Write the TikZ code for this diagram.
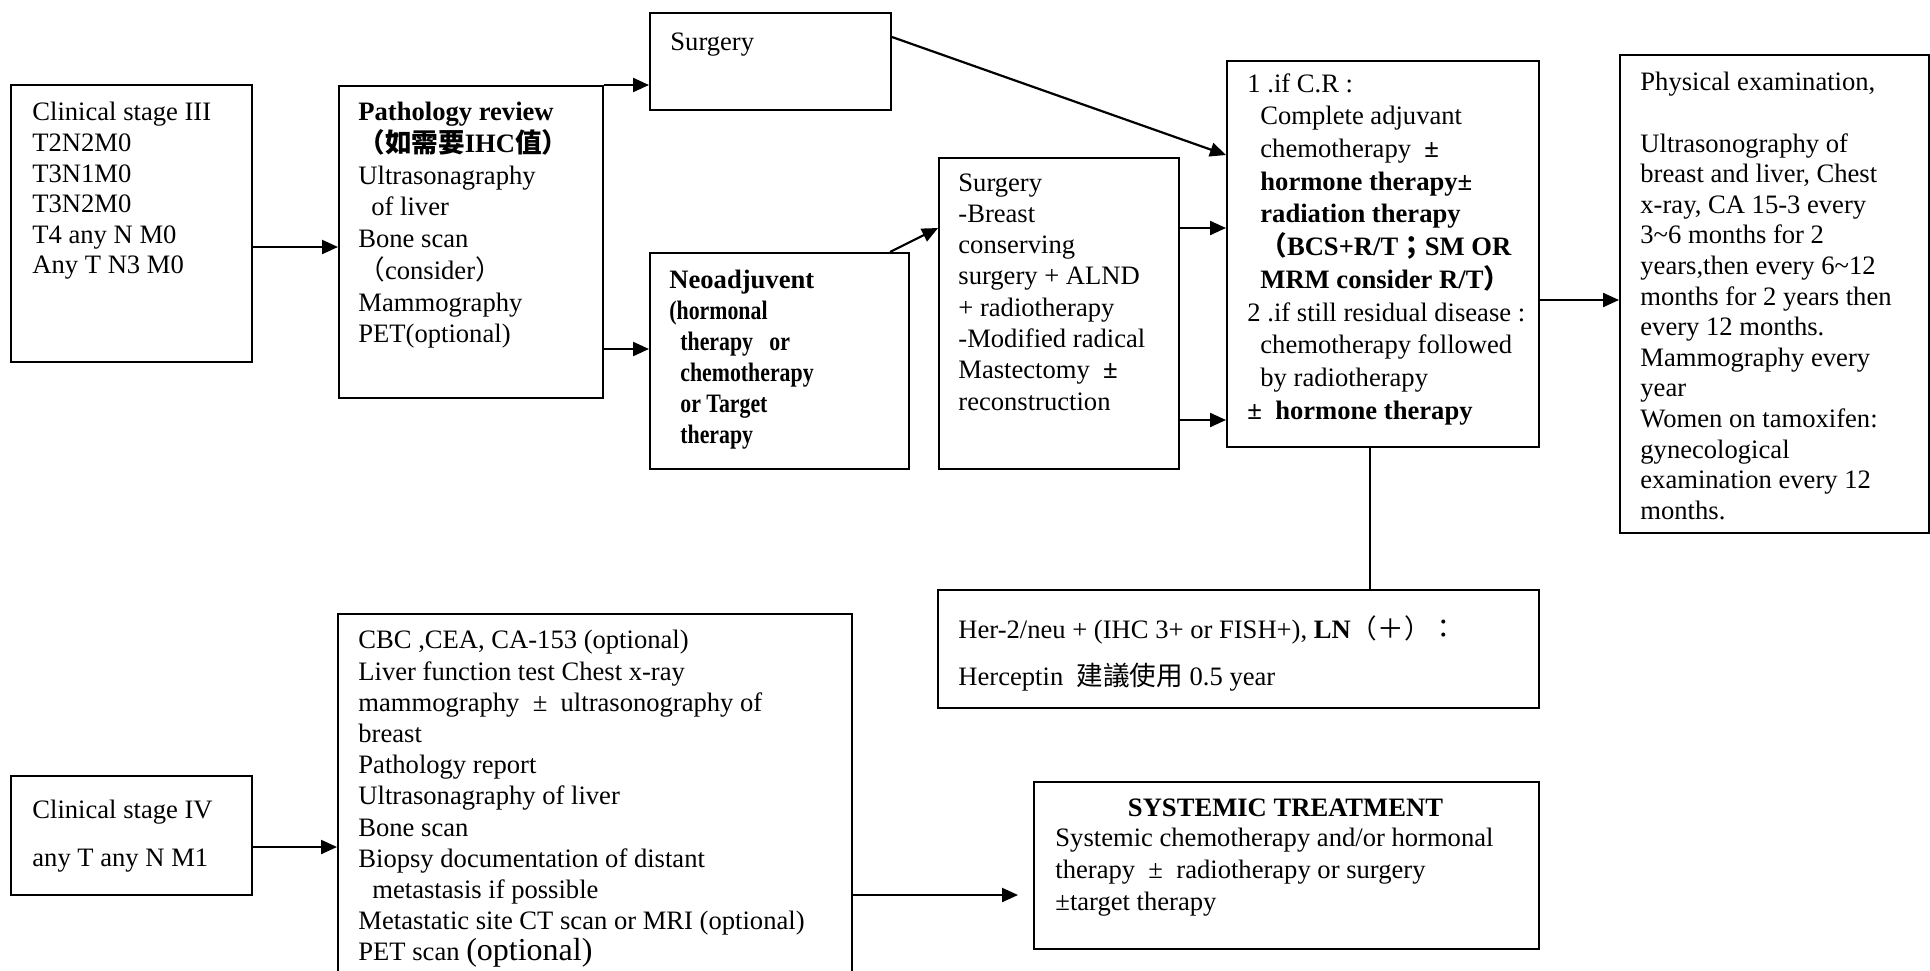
\documentclass[tikz,border=0pt]{standalone}
\usepackage{fontspec}
\usepackage{graphicx}
\setmainfont{Liberation Serif}
\newfontfamily\cjk{Noto Sans CJK TC}
\usetikzlibrary{arrows.meta}

\tikzset{
  box/.style={draw, line width=1pt, anchor=north west, inner sep=0pt},
  txt/.style={anchor=north west, align=left, inner sep=0pt, font=\fontsize{13.3pt}{#1}\selectfont},
  txt/.default=15.5pt,
  arr/.style={line width=1.1pt, -{Triangle[length=8pt, width=7pt]}}
}
\newcommand{\cond}[1]{\scalebox{0.82}[1]{\textbf{#1}}}

\begin{document}
\begin{tikzpicture}[x=0.5pt, y=-0.5pt]
\useasboundingbox (0,0) rectangle (1930,970);
\clip (0,0) rectangle (1930,970);

% boxes
\node[box, minimum width=120.5pt, minimum height=138.5pt] (stageIII) at (10,84) {};
\node[box, minimum width=132pt, minimum height=156pt] (patho) at (338,85) {};
\node[box, minimum width=120.5pt, minimum height=48.5pt] (surgeryA) at (649,12) {};
\node[box, minimum width=129.5pt, minimum height=108pt] (neo) at (649,252) {};
\node[box, minimum width=120pt, minimum height=155.5pt] (surgeryB) at (938,157) {};
\node[box, minimum width=156pt, minimum height=193pt] (cr) at (1226,60) {};
\node[box, minimum width=154.5pt, minimum height=239pt] (follow) at (1619,54) {};
\node[box, minimum width=300.5pt, minimum height=59pt] (her2) at (937,589) {};
\node[box, minimum width=120.5pt, minimum height=59.5pt] (stageIV) at (10,775) {};
\node[box, minimum width=257pt, minimum height=190pt] (exams) at (337,613) {};
\node[box, minimum width=252.5pt, minimum height=83.5pt] (systemic) at (1033,781) {};

% texts
\node[txt=15.3pt] (stageIIItext) at (32,102) {Clinical stage III\\T2N2M0\\T3N1M0\\T3N2M0\\T4 any N M0\\Any T N3 M0};
\node[txt=15.85pt] (pathotext) at (358,102) {\textbf{Pathology review}\\{\cjk\bfseries （如需要}\textbf{IHC}{\cjk\bfseries 值）}\\Ultrasonagraphy\\\hspace*{6.5pt}of liver\\Bone scan\\{\cjk （}consider{\cjk ）}\\Mammography\\PET(optional)};
\node[txt] (surgeryAtext) at (670,32) {Surgery};
\node[txt=15.5pt] (neotext) at (669,270) {\textbf{Neoadjuvent}\\\cond{(hormonal}\\\hspace*{5.5pt}\cond{therapy\ \ \ or}\\\hspace*{5.5pt}\cond{chemotherapy}\\\hspace*{5.5pt}\cond{or Target}\\\hspace*{5.5pt}\cond{therapy}};
\node[txt=15.65pt] (surgeryBtext) at (958,173) {Surgery\\-Breast\\conserving\\surgery + ALND\\+ radiotherapy\\-Modified radical\\Mastectomy \ \textbf{±}\\reconstruction};
\node[txt=16.35pt] (crtext) at (1247,73) {1 .if C.R :\\\hspace*{6.5pt}Complete adjuvant\\\hspace*{6.5pt}chemotherapy \ \textbf{±}\\\hspace*{6.5pt}\textbf{hormone therapy±}\\\hspace*{6.5pt}\textbf{radiation therapy}\\\hspace*{6.5pt}{\cjk\bfseries （}\textbf{BCS+R/T}{\cjk\bfseries ；}\textbf{SM OR}\\\hspace*{6.5pt}\textbf{MRM consider R/T}{\cjk\bfseries ）}\\2 .if still residual disease :\\\hspace*{6.5pt}chemotherapy followed\\\hspace*{6.5pt}by radiotherapy\\\textbf{± \ hormone therapy}};
\node[txt=15.3pt] (followtext) at (1640,72) {Physical examination,\\[15.3pt]Ultrasonography of\\breast and liver, Chest\\x-ray, CA 15-3 every\\3\textasciitilde 6 months for 2\\years,then every 6\textasciitilde 12\\months for 2 years then\\every 12 months.\\Mammography every\\year\\Women on tamoxifen:\\gynecological\\examination every 12\\months.};
\node[txt=23.5pt] (her2text) at (958,615) {Her-2/neu + (IHC 3+ or FISH+), \textbf{LN}{\cjk （＋）：}\\Herceptin \ {\cjk 建議使用} 0.5 year};
\node[txt=24pt] (stageIVtext) at (32,800) {Clinical stage IV\\any T any N M1};
\node[txt=15.6pt] (examstext) at (358,630) {CBC ,CEA, CA-153 (optional)\\Liver function test Chest x-ray\\mammography \ ± \ ultrasonography of\\breast\\Pathology report\\Ultrasonagraphy of liver\\Bone scan\\Biopsy documentation of distant\\\hspace*{7pt}metastasis if possible\\Metastatic site CT scan or MRI (optional)\\PET scan {\fontsize{16pt}{16pt}\selectfont (optional)}};
\node[anchor=north, inner sep=0pt, font=\fontsize{13.3pt}{15.85pt}\selectfont\bfseries] (systitle) at (1285.5,798) {SYSTEMIC TREATMENT};
\node[txt=15.85pt] (systext) at (1055,828) {Systemic chemotherapy and/or hormonal\\therapy \ ± \ radiotherapy or surgery\\±target therapy};

% connectors
\draw[arr] (stageIII.east |- 0,247) -- (patho.west |- 0,247);
\draw[arr] (patho.north east) -- (surgeryA.west |- patho.north east);
\draw[arr] (patho.east |- 0,349) -- (neo.west |- 0,349);
\draw[arr] (surgeryA.east |- 0,37) -- (cr.west |- 0,155);
\draw[arr] (890,0 |- neo.north) -- (surgeryB.west |- 0,228);
\draw[arr] (surgeryB.east |- 0,228) -- (cr.west |- 0,228);
\draw[arr] (surgeryB.east |- 0,420) -- (cr.west |- 0,420);
\draw[arr] (cr.east |- 0,300) -- (follow.west |- 0,300);
\draw[line width=0.65pt] (1370,0 |- cr.south) -- (1370,0 |- her2.north);
\draw[arr] (stageIV.east |- 0,847) -- (exams.west |- 0,847);
\draw[arr, shorten >=7.5pt] (exams.east |- 0,895) -- (systemic.west |- 0,895);
\end{tikzpicture}
\end{document}
